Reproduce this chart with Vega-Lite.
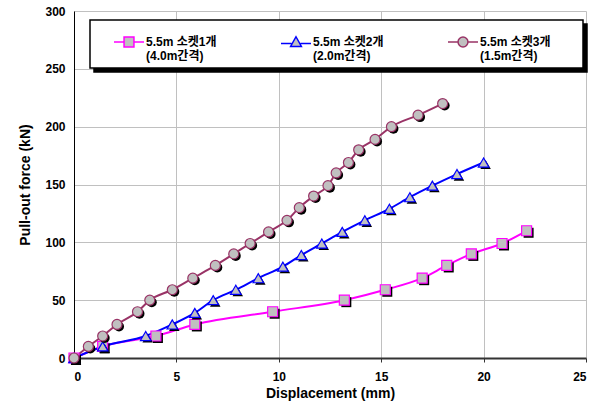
{
  "$schema": "https://vega.github.io/schema/vega-lite/v6.json",
  "width": 512,
  "height": 347,
  "autosize": {"type": "none"},
  "padding": {"left": 74, "top": 11, "right": 11, "bottom": 52},
  "background": "white",
  "config": {
    "view": {"stroke": null},
    "font": "Liberation Sans, Noto Sans CJK KR, sans-serif",
    "axis": {
      "labelFont": "Liberation Sans, Noto Sans CJK KR, sans-serif",
      "titleFont": "Liberation Sans, Noto Sans CJK KR, sans-serif",
      "labelFontSize": 12,
      "labelFontWeight": "bold",
      "labelColor": "black",
      "titleFontSize": 14,
      "titleFontWeight": "bold",
      "titleColor": "black",
      "gridColor": "#C0C0C0",
      "gridWidth": 1
    },
    "legend": {
      "title": null,
      "orient": "none",
      "direction": "horizontal",
      "columns": 3,
      "columnPadding": 46,
      "padding": 6,
      "symbolSize": 900,
      "symbolStrokeWidth": 1.5,
      "symbolOffset": 17,
      "labelFont": "Liberation Sans, Noto Sans CJK KR, sans-serif",
      "labelFontSize": 12,
      "labelFontWeight": "bold",
      "labelColor": "black",
      "labelLineHeight": 15,
      "labelOffset": 1,
      "labelLimit": 200
    }
  },
  "data": {
    "values": [
      {"series": "5.5m 소켓1개 (4.0m간격)", "d": 0, "f": 0},
      {"series": "5.5m 소켓1개 (4.0m간격)", "d": 1.4, "f": 10},
      {"series": "5.5m 소켓1개 (4.0m간격)", "d": 4.0, "f": 19},
      {"series": "5.5m 소켓1개 (4.0m간격)", "d": 5.9, "f": 29},
      {"series": "5.5m 소켓1개 (4.0m간격)", "d": 9.7, "f": 40},
      {"series": "5.5m 소켓1개 (4.0m간격)", "d": 13.2, "f": 50},
      {"series": "5.5m 소켓1개 (4.0m간격)", "d": 15.2, "f": 59},
      {"series": "5.5m 소켓1개 (4.0m간격)", "d": 17.0, "f": 69},
      {"series": "5.5m 소켓1개 (4.0m간격)", "d": 18.2, "f": 80},
      {"series": "5.5m 소켓1개 (4.0m간격)", "d": 19.4, "f": 90},
      {"series": "5.5m 소켓1개 (4.0m간격)", "d": 20.9, "f": 99},
      {"series": "5.5m 소켓1개 (4.0m간격)", "d": 22.1, "f": 110},
      {"series": "5.5m 소켓2개 (2.0m간격)", "d": 0, "f": 0},
      {"series": "5.5m 소켓2개 (2.0m간격)", "d": 1.4, "f": 10},
      {"series": "5.5m 소켓2개 (2.0m간격)", "d": 3.5, "f": 19},
      {"series": "5.5m 소켓2개 (2.0m간격)", "d": 4.8, "f": 29},
      {"series": "5.5m 소켓2개 (2.0m간격)", "d": 5.9, "f": 39},
      {"series": "5.5m 소켓2개 (2.0m간격)", "d": 6.8, "f": 50},
      {"series": "5.5m 소켓2개 (2.0m간격)", "d": 7.9, "f": 59},
      {"series": "5.5m 소켓2개 (2.0m간격)", "d": 9.0, "f": 69},
      {"series": "5.5m 소켓2개 (2.0m간격)", "d": 10.2, "f": 79},
      {"series": "5.5m 소켓2개 (2.0m간격)", "d": 11.1, "f": 89},
      {"series": "5.5m 소켓2개 (2.0m간격)", "d": 12.1, "f": 99},
      {"series": "5.5m 소켓2개 (2.0m간격)", "d": 13.1, "f": 109},
      {"series": "5.5m 소켓2개 (2.0m간격)", "d": 14.2, "f": 119},
      {"series": "5.5m 소켓2개 (2.0m간격)", "d": 15.4, "f": 129},
      {"series": "5.5m 소켓2개 (2.0m간격)", "d": 16.4, "f": 139},
      {"series": "5.5m 소켓2개 (2.0m간격)", "d": 17.5, "f": 149},
      {"series": "5.5m 소켓2개 (2.0m간격)", "d": 18.7, "f": 159},
      {"series": "5.5m 소켓2개 (2.0m간격)", "d": 20.0, "f": 169},
      {"series": "5.5m 소켓3개 (1.5m간격)", "d": 0, "f": 0},
      {"series": "5.5m 소켓3개 (1.5m간격)", "d": 0.7, "f": 10},
      {"series": "5.5m 소켓3개 (1.5m간격)", "d": 1.4, "f": 19},
      {"series": "5.5m 소켓3개 (1.5m간격)", "d": 2.1, "f": 29},
      {"series": "5.5m 소켓3개 (1.5m간격)", "d": 3.1, "f": 40},
      {"series": "5.5m 소켓3개 (1.5m간격)", "d": 3.7, "f": 50},
      {"series": "5.5m 소켓3개 (1.5m간격)", "d": 4.8, "f": 59},
      {"series": "5.5m 소켓3개 (1.5m간격)", "d": 5.8, "f": 69},
      {"series": "5.5m 소켓3개 (1.5m간격)", "d": 6.9, "f": 80},
      {"series": "5.5m 소켓3개 (1.5m간격)", "d": 7.8, "f": 90},
      {"series": "5.5m 소켓3개 (1.5m간격)", "d": 8.6, "f": 99},
      {"series": "5.5m 소켓3개 (1.5m간격)", "d": 9.5, "f": 109},
      {"series": "5.5m 소켓3개 (1.5m간격)", "d": 10.4, "f": 119},
      {"series": "5.5m 소켓3개 (1.5m간격)", "d": 11.0, "f": 130},
      {"series": "5.5m 소켓3개 (1.5m간격)", "d": 11.7, "f": 140},
      {"series": "5.5m 소켓3개 (1.5m간격)", "d": 12.4, "f": 149},
      {"series": "5.5m 소켓3개 (1.5m간격)", "d": 12.8, "f": 160},
      {"series": "5.5m 소켓3개 (1.5m간격)", "d": 13.4, "f": 169},
      {"series": "5.5m 소켓3개 (1.5m간격)", "d": 13.9, "f": 180},
      {"series": "5.5m 소켓3개 (1.5m간격)", "d": 14.7, "f": 189},
      {"series": "5.5m 소켓3개 (1.5m간격)", "d": 15.5, "f": 200},
      {"series": "5.5m 소켓3개 (1.5m간격)", "d": 16.8, "f": 210},
      {"series": "5.5m 소켓3개 (1.5m간격)", "d": 18.0, "f": 220}
    ]
  },
  "encoding": {
    "x": {
      "field": "d", "type": "quantitative",
      "scale": {"domain": [0, 25], "nice": false},
      "axis": {
        "title": "Displacement (mm)",
        "values": [0, 5, 10, 15, 20, 25],
        "domainColor": "#333333", "domainWidth": 2,
        "tickColor": "#333333", "tickSize": 4,
        "labelPadding": 9, "titlePadding": 4
      }
    },
    "y": {
      "field": "f", "type": "quantitative",
      "scale": {"domain": [0, 300], "nice": false},
      "axis": {
        "title": "Pull-out force (kN)",
        "values": [0, 50, 100, 150, 200, 250, 300],
        "domainColor": "black", "domainWidth": 1,
        "ticks": false,
        "labelPadding": 9, "titlePadding": 12
      }
    }
  },
  "layer": [
    {
      "mark": {"type": "line", "interpolate": "monotone", "strokeWidth": 2},
      "encoding": {
        "opacity": {
          "field": "series", "type": "nominal",
          "scale": {
            "domain": ["5.5m 소켓3개 (1.5m간격)", "5.5m 소켓2개 (2.0m간격)", "5.5m 소켓1개 (4.0m간격)"],
            "range": [1, 1, 1]
          },
          "legend": {
            "zindex": 1,
            "legendX": 20,
            "legendY": 13,
            "fillColor": "black",
            "strokeColor": "black",
            "labelOpacity": 0,
            "symbolOpacity": 0,
            "labelExpr": "[slice(datum.label,0,indexof(datum.label,' (')) + (indexof(datum.label,'1개')>=0 ? '     \u2800' : ''), slice(datum.label,indexof(datum.label,' (')+1)]",
            "encode": {
              "legend": {"update": {"strokeWidth": {"value": 1.5}}},
              "labels": {"update": {"opacity": {"value": 0}}},
              "symbols": {
                "update": {
                  "opacity": {"value": 0},
                  "shape": {"signal": "indexof(datum.value,'1개')>=0 ? 'M-1,0H-0.33M0.33,0H1M-0.33,-0.33H0.33V0.33H-0.33Z' : indexof(datum.value,'2개')>=0 ? 'M-1,0.1H-0.3M0.3,0.1H1M0,-0.35L0.36,0.3H-0.36Z' : 'M-1,0H-0.33M0.33,0H1M-0.33,0A0.33,0.33,0,1,0,0.33,0A0.33,0.33,0,1,0,-0.33,0Z'"}
                }
              }
            }
          }
        },
        "color": {
          "field": "series", "type": "nominal",
          "scale": {
            "domain": ["5.5m 소켓1개 (4.0m간격)", "5.5m 소켓2개 (2.0m간격)", "5.5m 소켓3개 (1.5m간격)"],
            "range": ["#FF00FF", "#0000FF", "#993366"]
          },
          "legend": {
            "zindex": 2,
            "legendX": 16,
            "legendY": 9,
            "fillColor": "white",
            "strokeColor": "black",
            "labelExpr": "[slice(datum.label,0,indexof(datum.label,' (')) + (indexof(datum.label,'3개')>=0 ? '     \u2800' : ''), slice(datum.label,indexof(datum.label,' (')+1)]",
            "encode": {
              "legend": {"update": {"strokeWidth": {"value": 1.5}}},
              "symbols": {
                "update": {
                  "fill": {"value": "#C0C0C0"},
                  "shape": {"signal": "indexof(datum.value,'1개')>=0 ? 'M-1,0H-0.33M0.33,0H1M-0.33,-0.33H0.33V0.33H-0.33Z' : indexof(datum.value,'2개')>=0 ? 'M-1,0.1H-0.3M0.3,0.1H1M0,-0.35L0.36,0.3H-0.36Z' : 'M-1,0H-0.33M0.33,0H1M-0.33,0A0.33,0.33,0,1,0,0.33,0A0.33,0.33,0,1,0,-0.33,0Z'"}
                }
              }
            }
          }
        }
      }
    },
    {
      "transform": [{"filter": "indexof(datum.series,'1개')>=0"}],
      "mark": {"type": "point", "shape": "square", "filled": true, "color": "black", "opacity": 1, "xOffset": 2, "yOffset": 2, "size": 100}
    },
    {
      "transform": [{"filter": "indexof(datum.series,'1개')>=0"}],
      "mark": {"type": "point", "shape": "square", "filled": true, "fill": "#C0C0C0", "stroke": "#FF00FF", "opacity": 1, "strokeWidth": 1.2, "size": 100}
    },
    {
      "transform": [{"filter": "indexof(datum.series,'2개')>=0"}],
      "mark": {"type": "point", "shape": "triangle-up", "filled": true, "color": "black", "opacity": 1, "xOffset": 2, "yOffset": 2, "size": 110}
    },
    {
      "transform": [{"filter": "indexof(datum.series,'2개')>=0"}],
      "mark": {"type": "point", "shape": "triangle-up", "filled": true, "fill": "#C0C0C0", "stroke": "#0000FF", "opacity": 1, "strokeWidth": 1.2, "size": 110}
    },
    {
      "transform": [{"filter": "indexof(datum.series,'3개')>=0"}],
      "mark": {"type": "point", "shape": "circle", "filled": true, "color": "black", "opacity": 1, "xOffset": 2, "yOffset": 2, "size": 100}
    },
    {
      "transform": [{"filter": "indexof(datum.series,'3개')>=0"}],
      "mark": {"type": "point", "shape": "circle", "filled": true, "fill": "#C0C0C0", "stroke": "#993366", "opacity": 1, "strokeWidth": 1.2, "size": 100}
    }
  ]
}
